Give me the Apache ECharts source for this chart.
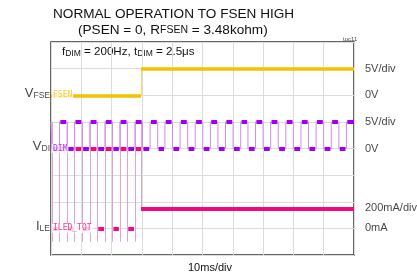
<!DOCTYPE html>
<html>
<head>
<meta charset="utf-8">
<script src="https://cdn.jsdelivr.net/npm/echarts@6/dist/echarts.min.js"></script>
<style>
  html, body { margin: 0; padding: 0; background: #fff; }
  #chart { width: 417px; height: 278px; }
</style>
</head>
<body>
<div id="chart"></div>
<script>
// time in ms (10ms/div), levels in screen divisions (0..8 from bottom)
const fsenSwitch = 29.7;
const fsenLow = 6.0;
const fsenHigh = 7.0;

const dimFall = [0.3, 5.3, 10.3, 15.3, 20.3, 25.2, 30.2, 35.2, 40.1, 45.1, 50.1, 55.1, 60.1, 65.0, 70.0, 75.0, 80.0, 85.0, 90.0, 95.0];
const dimRise = [2.8, 7.8, 12.8, 17.8, 22.7, 27.7, 32.7, 37.6, 42.6, 47.6, 52.6, 57.6, 62.6, 67.5, 72.5, 77.5, 82.5, 87.5, 92.5, 97.5];
const dimLow = 4.0;
const dimHigh = 5.0;

const iledZero = 1.0;
const iledPulse = 4.0;   // current level during DIM high before FSEN switch
const iledHigh = 1.75;   // steady current after FSEN switch
const iledSpikeTop = 5.0;
const iledSpikeBottom = 0.5;

const rightLabels = [
  { y: 7.0, text: "5V/div" },
  { y: 6.0, text: "0V" },
  { y: 5.0, text: "5V/div" },
  { y: 4.0, text: "0V" },
  { y: 1.77, text: "200mA/div" },
  { y: 1.0, text: "0mA" }
];

const YELLOW = "#f2c100";
const PURPLE = "#a000f0";
const PINK = "#f5077f";
const THIN_PURPLE = "#cf8fe6";
const THIN_PINK = "#dc9ad8";

const inset = 0.3;

// edges sorted with level after each edge
const edges = [];
dimFall.forEach((t) => edges.push({ t, high: false }));
dimRise.forEach((t) => edges.push({ t, high: true }));
edges.sort((a, b) => a.t - b.t);

// DIM thin square wave
const dimLine = [[0, dimHigh]];
edges.forEach((e) => {
  dimLine.push([e.t, e.high ? dimLow : dimHigh]);
  dimLine.push([e.t, e.high ? dimHigh : dimLow]);
});
dimLine.push([100, edges[edges.length - 1].high ? dimHigh : dimLow]);

// DIM thick segments + ILED thick segments
const dimThick = [];
const iledThick = [];
let prevT = 0;
let prevHigh = true;
const bounds = edges.map((e) => e.t).concat([100]);
bounds.forEach((t, i) => {
  const a = prevT === 0 ? 0 : prevT + inset;
  const b = t === 100 ? 100 : t - inset;
  if (b > a) {
    dimThick.push({ coords: [[a, prevHigh ? dimHigh : dimLow], [b, prevHigh ? dimHigh : dimLow]] });
    if (prevT < fsenSwitch) {
      const end = Math.min(b, fsenSwitch);
      iledThick.push({ coords: [[a, prevHigh ? iledPulse : iledZero], [end, prevHigh ? iledPulse : iledZero]] });
    }
  }
  if (i < edges.length) {
    prevT = t;
    prevHigh = edges[i].high;
  }
});
iledThick.push({ coords: [[fsenSwitch, iledHigh], [100, iledHigh]] });

// ILED thin edge lines before switch
const iledEdges = edges
  .filter((e) => e.t < fsenSwitch)
  .map((e) => ({ coords: [[e.t, iledSpikeBottom], [e.t, iledSpikeTop]] }));
iledEdges.push({ coords: [[fsenSwitch, iledHigh], [fsenSwitch, dimHigh]] });

const fsenThick = [
  { coords: [[0, fsenLow], [fsenSwitch, fsenLow]] },
  { coords: [[fsenSwitch, fsenHigh], [100, fsenHigh]] }
];

const chart = echarts.init(document.getElementById("chart"), null, { renderer: "canvas" });

const FONT = "Liberation Sans";

chart.setOption({
  animation: false,
  textStyle: { fontFamily: FONT },
  grid: {
    left: 51, right: 63, top: 42, bottom: 23,
    show: true, borderColor: "#333", borderWidth: 1.5, backgroundColor: "transparent"
  },
  xAxis: {
    type: "value", min: 0, max: 100, interval: 10,
    axisLine: { show: false }, axisTick: { show: false }, axisLabel: { show: false },
    splitLine: { lineStyle: { color: "#dcdcdc", width: 1 } }
  },
  yAxis: {
    type: "value", min: 0, max: 8, interval: 1,
    axisLine: { show: false }, axisTick: { show: false }, axisLabel: { show: false },
    splitLine: { lineStyle: { color: "#dcdcdc", width: 1 } }
  },
  graphic: [
    {
      type: "text", left: 53, top: 7,
      style: { text: "NORMAL OPERATION TO FSEN HIGH", font: "13.6px " + FONT, fill: "#111" }
    },
    {
      type: "text", left: 78, top: 23,
      style: {
        text: "{a|(PSEN = 0, R}{b|FSEN}{a| = 3.48kohm)}",
        rich: {
          a: { font: "13.6px " + FONT, fill: "#111" },
          b: { font: "10.5px " + FONT, fill: "#111" }
        }
      }
    },
    {
      type: "text", left: 62, top: 46,
      style: {
        text: "{a|f}{b|DIM}{a| = 200Hz, t}{b|DIM}{a| = 2.5μs}",
        rich: {
          a: { font: "11.6px " + FONT, fill: "#111" },
          b: { font: "8.5px " + FONT, fill: "#111", padding: [3, 0, 0, 0] }
        }
      }
    },
    {
      type: "text", left: 343, top: 36,
      style: { text: "toc11", font: "6px " + FONT, fill: "#444" }
    },
    {
      type: "text", left: 188, top: 262,
      style: { text: "10ms/div", font: "11px " + FONT, fill: "#111" }
    }
  ],
  series: [
    {
      type: "lines", coordinateSystem: "cartesian2d", silent: true,
      lineStyle: { color: THIN_PINK, width: 1, opacity: 0.9 },
      data: iledEdges, z: 2
    },
    {
      type: "line", data: dimLine, symbol: "none", silent: true,
      lineStyle: { color: THIN_PURPLE, width: 1 }, z: 3
    },
    {
      type: "lines", coordinateSystem: "cartesian2d", silent: true,
      lineStyle: { color: YELLOW, width: 1, opacity: 0.6 },
      data: [{ coords: [[fsenSwitch, fsenLow], [fsenSwitch, fsenHigh]] }], z: 3
    },
    {
      type: "lines", coordinateSystem: "cartesian2d", silent: true,
      lineStyle: { color: PURPLE, width: 4, cap: "butt", opacity: 1 },
      data: dimThick, z: 4
    },
    {
      type: "lines", coordinateSystem: "cartesian2d", silent: true,
      lineStyle: { color: PINK, width: 4, cap: "butt", opacity: 1 },
      data: iledThick, z: 5
    },
    {
      type: "lines", coordinateSystem: "cartesian2d", silent: true,
      lineStyle: { color: YELLOW, width: 3.5, cap: "butt", opacity: 1 },
      data: fsenThick, z: 5
    },
    {
      // channel tags inside the box
      type: "scatter", symbolSize: 0, silent: true, z: 10,
      data: [
        { value: [0, fsenLow], label: { formatter: "FSEN", color: YELLOW } },
        { value: [0, dimLow], label: { formatter: "DIM", color: PURPLE } },
        { value: [0, iledZero], label: { formatter: "ILED_TOT", color: PINK } }
      ],
      label: {
        show: true, position: "right", distance: 1,
        fontFamily: "DejaVu Sans Mono", fontSize: 8,
        backgroundColor: "#fff", padding: [1, 1, 0, 1]
      }
    },
    {
      // trace names left of the box
      type: "scatter", symbolSize: 0, silent: true, z: 10,
      data: [
        { value: [0, fsenLow], label: { formatter: "{a|V}{b|FSE}" } },
        { value: [0, dimLow], label: { formatter: "{a|V}{b|DI}" } },
        { value: [0, iledZero], label: { formatter: "{a|I}{b|LE}" } }
      ],
      label: {
        show: true, position: "left", distance: 1, offset: [0, -2],
        rich: {
          a: { fontFamily: FONT, fontSize: 13, color: "#111" },
          b: { fontFamily: FONT, fontSize: 8.5, color: "#111", padding: [5, 0, 0, 0] }
        }
      }
    },
    {
      // scale labels right of the box
      type: "scatter", symbolSize: 0, silent: true, z: 10,
      data: rightLabels.map((r) => ({ value: [100, r.y], label: { formatter: r.text } })),
      label: {
        show: true, position: "right", distance: 11,
        fontFamily: FONT, fontSize: 11, color: "#111"
      }
    }
  ]
});
</script>
</body>
</html>
